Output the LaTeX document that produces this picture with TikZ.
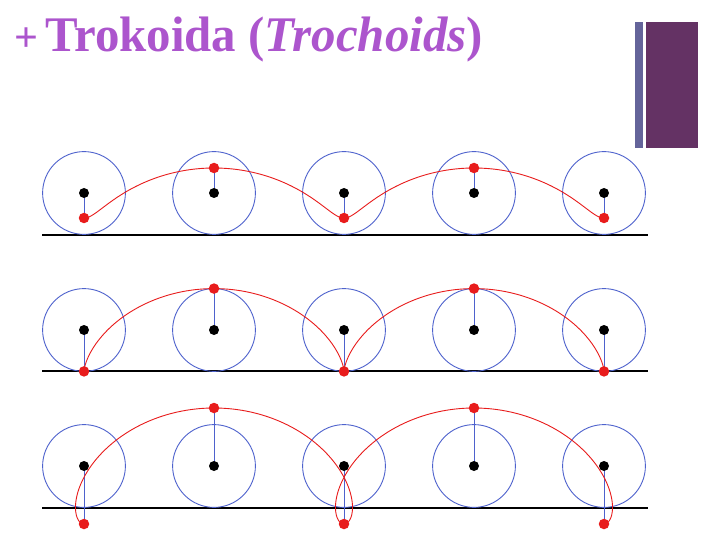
\documentclass[tikz,border=0pt]{standalone}
\usepackage{fontspec}
\setmainfont{Liberation Serif}
\definecolor{titlepurple}{RGB}{172,85,205}
\definecolor{wheelblue}{RGB}{78,98,205}
\definecolor{trocred}{RGB}{232,28,28}
\definecolor{barslate}{RGB}{100,100,154}
\definecolor{barplum}{RGB}{100,50,100}
\tikzset{
  wheel/.style={circle,draw=wheelblue,line width=0.9pt,minimum size=82.8pt,inner sep=0pt},
  hub/.style={circle,fill=black,minimum size=10pt,inner sep=0pt},
  tracer/.style={circle,fill=trocred,minimum size=10.5pt,inner sep=0pt},
  spoke/.style={draw=wheelblue,line width=0.8pt},
  curve/.style={draw=trocred,line width=0.9pt},
  ground/.style={draw=black,line width=1.6pt},
  titletext/.style={text=titlepurple,inner sep=0pt}
}
\begin{document}
\begin{tikzpicture}[x=1pt,y=-1pt]
\useasboundingbox (0,0) rectangle (720,540);
\fill[white] (0,0) rectangle (720,540);
% title
\node[titletext,font=\fontsize{42}{42}\selectfont\bfseries] (plus) at (26.5,40) {+};
\node[titletext,anchor=base west,xscale=1.04,yscale=1.06,font=\fontsize{47}{47}\selectfont\bfseries] (title) at (45,52) {Trokoida (\textit{Trochoids})};
% bars
\fill[barslate] (635,22) rectangle (642.5,148);
\fill[barplum] (646,22) rectangle (698,148);
% rows
\foreach \row/\yc/\d/\g in {1/193/25/235, 2/330/41.4/371, 3/466/58/508} {
  \coordinate (gl\row) at (42,\g);
  \coordinate (gr\row) at (648,\g);
  \draw[ground] (gl\row) -- (gr\row);
  \foreach \i in {0,...,4} {
    \pgfmathsetmacro{\xx}{84+130*\i}
    \pgfmathsetmacro{\yy}{\yc+\d*cos(180*\i)}
    \node[wheel] (w\row\i) at (\xx,\yc) {};
    \coordinate (pc\row\i) at (\xx,\yy);
    \draw[spoke] (\xx,\yc) -- (pc\row\i);
  }
  \draw[curve] plot[domain=0:4*pi,samples=400,variable=\t]
    ({84+41.38*\t-\d*sin(\t r)},{\yc+\d*cos(\t r)});
  \foreach \i in {0,...,4} {
    \pgfmathsetmacro{\xx}{84+130*\i}
    \pgfmathsetmacro{\yy}{\yc+\d*cos(180*\i)}
    \node[hub] (h\row\i) at (\xx,\yc) {};
    \node[tracer] (p\row\i) at (\xx,\yy) {};
  }
}
\end{tikzpicture}
\end{document}
